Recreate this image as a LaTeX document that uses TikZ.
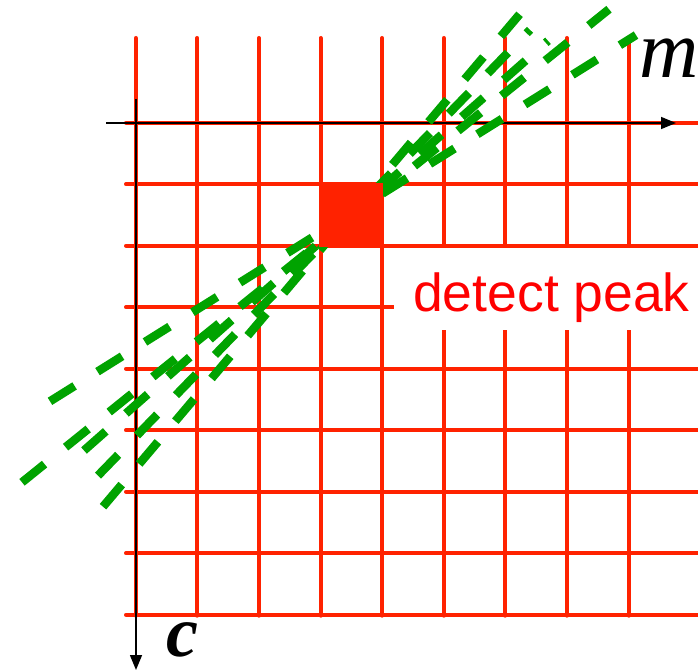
\documentclass[tikz,border=0pt]{standalone}
\usepackage{fontspec}
\setmainfont{Liberation Serif}
\setsansfont{Liberation Sans}
\usetikzlibrary{arrows.meta}
\definecolor{gridred}{RGB}{255,34,0}
\definecolor{textred}{RGB}{255,0,0}
\definecolor{dashgreen}{RGB}{0,163,0}
\begin{document}
\begin{tikzpicture}[x=1pt,y=-1pt,
  gridline/.style={gridred, line width=4pt, line cap=round},
  axisline/.style={black, line width=1.5pt, -{Triangle[length=15pt,width=12pt]}},
  houghline/.style={dashgreen, line width=8.5pt, dash pattern=on 29pt off 27pt},
  axislabel/.style={inner sep=0pt, anchor=base west},
]
\useasboundingbox (0,0) rectangle (698,671);
\clip (0,0) rectangle (698,671);
% grid
\foreach \i in {0,...,8} {
  \draw[gridline] ({135.7+61.6*\i},38) -- ({135.7+61.6*\i},615.7);
}
\foreach \j in {0,...,8} {
  \draw[gridline] (126,{122.7+61.5*\j}) -- (700,{122.7+61.5*\j});
}
% label with white backing
\node[fill=white, anchor=base west, inner xsep=19pt, inner ysep=0pt,
      text height=63pt, text depth=19pt,
      font=\sffamily\fontsize{53.5}{53.5}\selectfont, text=textred] (peaklabel) at (394,311) {detect peak};
% axes
\coordinate (mstart) at (106,123);
\coordinate (mend) at (676,123);
\coordinate (cstart) at (136,99);
\coordinate (cend) at (136,670);
\draw[axisline] (mstart) -- (mend);
\draw[axisline] (cstart) -- (cend);
\node[axislabel, font=\fontsize{82}{82}\selectfont\itshape] (mlabel) at (639,77.3) {m};
\node[axislabel, font=\fontsize{72}{72}\selectfont\bfseries\itshape] (clabel) at (166,656) {c};
% Hough lines
\coordinate (l1a) at (50,401.3);  \coordinate (l1b) at (636,35.1);
\coordinate (l2a) at (22,482.3);  \coordinate (l2b) at (609,9.2);
\coordinate (l3a) at (84,450.5);  \coordinate (l3b) at (548,40.8);
\coordinate (l4a) at (98,475.6);  \coordinate (l4b) at (530,29.8);
\coordinate (l5a) at (103,506.7); \coordinate (l5b) at (520,13.8);
\draw[houghline] (l1a) -- (l1b);
\draw[houghline] (l2a) -- (l2b);
\draw[houghline] (l3a) -- (l3b);
\draw[houghline] (l4a) -- (l4b);
\draw[houghline] (l5a) -- (l5b);
% peak cell
\fill[gridred] (319,183) rectangle (383,247);
\end{tikzpicture}
\end{document}
